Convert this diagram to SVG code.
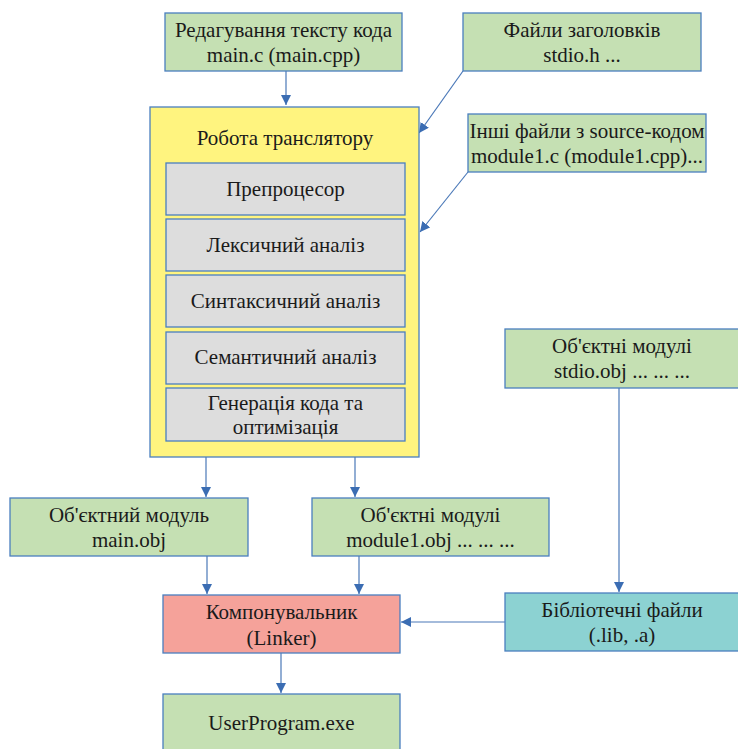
<svg xmlns="http://www.w3.org/2000/svg" width="738" height="749" viewBox="0 0 738 749">
<defs>
<marker id="ah" viewBox="0 0 10 10" refX="10" refY="5" markerWidth="10" markerHeight="10" markerUnits="userSpaceOnUse" orient="auto">
<path d="M0,0 L10,5 L0,10 z" fill="#3b6db3"/>
</marker>
<style>
text{font-family:"Liberation Serif","Times New Roman",serif;font-size:21px;fill:#1a1a1a;text-anchor:middle}
.g{fill:#c5e0b3;stroke:#4a7fbf;stroke-width:1.3}
.y{fill:#fff47f;stroke:#4a7fbf;stroke-width:1.3}
.s{fill:#dddddd;stroke:#4a7fbf;stroke-width:1.3}
.r{fill:#f5a29a;stroke:#4a7fbf;stroke-width:1.3}
.t{fill:#8cd2d2;stroke:#4a7fbf;stroke-width:1.3}
.c{fill:none;stroke:#4a78b8;stroke-width:1.2;marker-end:url(#ah)}
</style>
</defs>
<rect width="738" height="749" fill="#ffffff"/>
<g id="connectors">
<line class="c" x1="286" y1="71" x2="286" y2="105"/>
<line class="c" x1="463" y1="71" x2="419" y2="133"/>
<line class="c" x1="468" y1="172" x2="420" y2="232"/>
<line class="c" x1="206" y1="457" x2="206" y2="497"/>
<line class="c" x1="355" y1="457" x2="355" y2="497"/>
<line class="c" x1="207" y1="556" x2="207" y2="594"/>
<line class="c" x1="359" y1="556" x2="359" y2="594"/>
<line class="c" x1="619" y1="388" x2="619" y2="592"/>
<line class="c" x1="505" y1="622" x2="401" y2="622"/>
<line class="c" x1="281" y1="653" x2="281" y2="693"/>
</g>
<g id="edit">
<rect class="g" x="165" y="13" width="237" height="58"/>
<text x="283.5" y="37">Редагування тексту кода</text>
<text x="283.5" y="62">main.c (main.cpp)</text>
</g>
<g id="headers">
<rect class="g" x="463" y="13" width="238" height="58"/>
<text x="582" y="37">Файли заголовків</text>
<text x="582" y="62">stdio.h ...</text>
</g>
<g id="sources">
<rect class="g" x="468" y="114" width="238" height="58"/>
<text x="587" y="138">Інші файли з source-кодом</text>
<text x="587" y="163">module1.c (module1.cpp)...</text>
</g>
<g id="translator">
<rect class="y" x="150" y="107" width="269" height="350"/>
<text x="285" y="145">Робота транслятору</text>
</g>
<g id="preproc">
<rect class="s" x="166" y="163" width="239" height="52"/>
<text x="285.5" y="196">Препроцесор</text>
</g>
<g id="lexical">
<rect class="s" x="166" y="219" width="239" height="52"/>
<text x="285.5" y="252">Лексичний аналіз</text>
</g>
<g id="syntax">
<rect class="s" x="166" y="275" width="239" height="52"/>
<text x="285.5" y="308">Синтаксичний аналіз</text>
</g>
<g id="semantic">
<rect class="s" x="166" y="332" width="239" height="52"/>
<text x="285.5" y="364">Семантичний аналіз</text>
</g>
<g id="codegen">
<rect class="s" x="166" y="388" width="239" height="53"/>
<text x="285.5" y="410">Генерація кода та</text>
<text x="285.5" y="434">оптимізація</text>
</g>
<g id="mainobj">
<rect class="g" x="10" y="498" width="238" height="58"/>
<text x="129" y="522">Об'єктний модуль</text>
<text x="129" y="547">main.obj</text>
</g>
<g id="module1obj">
<rect class="g" x="312" y="498" width="237" height="58"/>
<text x="430.5" y="522">Об'єктні модулі</text>
<text x="430.5" y="547">module1.obj ... ... ...</text>
</g>
<g id="stdioobj">
<rect class="g" x="505" y="329" width="240" height="59"/>
<text x="622" y="353">Об'єктні модулі</text>
<text x="622" y="378">stdio.obj ... ... ...</text>
</g>
<g id="linker">
<rect class="r" x="163" y="595" width="237" height="58"/>
<text x="281.5" y="619">Компонувальник</text>
<text x="281.5" y="645">(Linker)</text>
</g>
<g id="libs">
<rect class="t" x="505" y="593" width="240" height="58"/>
<text x="622" y="617">Бібліотечні файли</text>
<text x="622" y="642">(.lib, .a)</text>
</g>
<g id="exe">
<rect class="g" x="163" y="694" width="237" height="60"/>
<text x="281.5" y="730">UserProgram.exe</text>
</g>
</svg>
